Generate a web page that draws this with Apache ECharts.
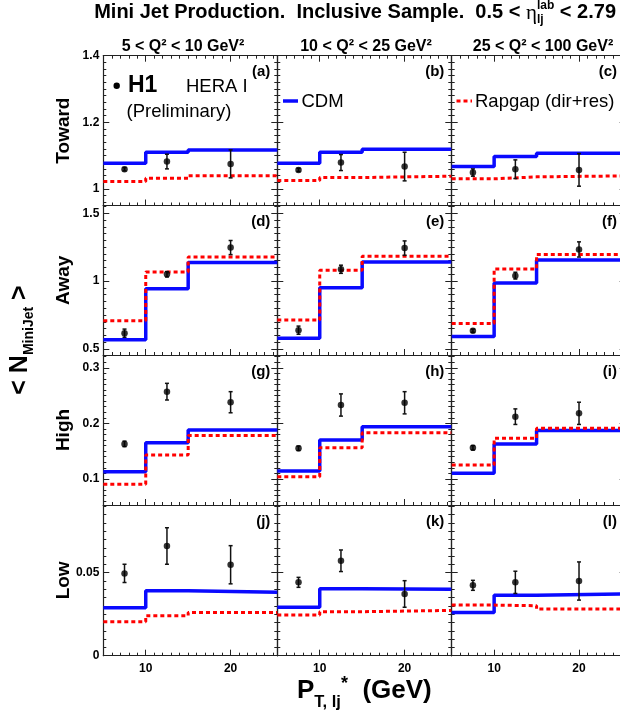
<!DOCTYPE html>
<html>
<head>
<meta charset="utf-8">
<script src="https://cdn.jsdelivr.net/npm/echarts@6/dist/echarts.min.js"></script>
<style>
  html, body { margin: 0; padding: 0; background: #fff; }
  #chart { width: 620px; height: 715px; }
</style>
</head>
<body>
<div id="chart"></div>
<script>
// pT* bins and H1 bin centres (GeV)
var binEdges = [5, 10, 15, 25.5];
var ptCenters = [7.5, 12.5, 20];

var rowNames = ['Toward', 'Away', 'High', 'Low'];
var colTitles = ['5 < Q\u00b2 < 10 GeV\u00b2', '10 < Q\u00b2 < 25 GeV\u00b2', '25 < Q\u00b2 < 100 GeV\u00b2'];
var panelTags = [['(a)', '(b)', '(c)'], ['(d)', '(e)', '(f)'], ['(g)', '(h)', '(i)'], ['(j)', '(k)', '(l)']];

// CDM prediction, [Q2 column][pT bin]
var cdmToward = [[1.077, 1.110, 1.117], [1.077, 1.110, 1.119], [1.067, 1.097, 1.107]];
var cdmAway = [[0.567, 0.943, 1.136], [0.579, 0.950, 1.141], [0.591, 0.985, 1.156]];
var cdmHigh = [[0.113, 0.165, 0.188], [0.114, 0.170, 0.194], [0.110, 0.163, 0.187]];
var cdmLow = [[0.0289, 0.0392, 0.0382], [0.0292, 0.0404, 0.0400], [0.0261, 0.0364, 0.0372]];

// Rapgap (dir+res)
var rapToward = [[1.022, 1.032, 1.039], [1.025, 1.034, 1.038], [1.030, 1.036, 1.039]];
var rapAway = [[0.708, 1.067, 1.178], [0.713, 1.079, 1.183], [0.688, 1.089, 1.196]];
var rapHigh = [[0.0905, 0.143, 0.178], [0.104, 0.156, 0.183], [0.125, 0.173, 0.191]];
var rapLow = [[0.0205, 0.0241, 0.0261], [0.0245, 0.0265, 0.0273], [0.0305, 0.0301, 0.0281]];

// H1 data and total errors
var h1Toward = [[1.059, 1.082, 1.075], [1.057, 1.079, 1.067], [1.049, 1.059, 1.057]];
var h1TowardErr = [[0.005, 0.022, 0.042], [0.005, 0.024, 0.043], [0.011, 0.028, 0.049]];
var h1Away = [[0.616, 1.050, 1.247], [0.638, 1.087, 1.243], [0.634, 1.040, 1.233]];
var h1AwayErr = [[0.03, 0.02, 0.052], [0.03, 0.03, 0.053], [0.012, 0.025, 0.056]];
var h1High = [[0.163, 0.257, 0.238], [0.155, 0.233, 0.237], [0.156, 0.212, 0.218]];
var h1HighErr = [[0.005, 0.015, 0.019], [0.004, 0.02, 0.02], [0.004, 0.014, 0.02]];
var h1Low = [[0.0496, 0.0661, 0.0548], [0.0442, 0.0572, 0.0372], [0.0424, 0.0442, 0.0450]];
var h1LowErr = [[0.0055, 0.011, 0.0115], [0.003, 0.0065, 0.008], [0.003, 0.0067, 0.0115]];

// axis ranges and tick labels per row
var yMin = [0.95, 0.455, 0.053, 0];
var yMax = [1.4, 1.557, 0.323, 0.0908];
var yLabels = [[1, 1.2, 1.4], [0.5, 1, 1.5], [0.1, 0.2, 0.3], [0, 0.05]];
var yMinorStep = [0.02, 0.05, 0.01, 0.005];
var xLabels = [10, 20];

var cdmRows = [cdmToward, cdmAway, cdmHigh, cdmLow];
var rapRows = [rapToward, rapAway, rapHigh, rapLow];
var h1Rows = [h1Toward, h1Away, h1High, h1Low];
var h1ErrRows = [h1TowardErr, h1AwayErr, h1HighErr, h1LowErr];

var FONT = '"Liberation Sans", Arial, Helvetica, sans-serif';
var colLeft = [103.3, 277.3, 451.7];
var panelW = 174;
var rowTop = [55.7, 205.5, 355, 505];
var rowBottom = [205.5, 355, 505, 655.7];

function ticksBetween(min, max, step) {
  var out = [];
  for (var k = Math.ceil(min / step - 1e-9); k * step <= max + 1e-9; k++) {
    out.push(+(k * step).toFixed(6));
  }
  return out;
}

var grids = [], xAxes = [], yAxes = [], series = [];

function addAxis(list, g, pos, min, max, ticks, len, withLine, labels) {
  var isX = list === xAxes;
  list.push({
    gridIndex: g, type: 'value', min: min, max: max, position: pos,
    axisLine: { show: withLine, onZero: false, lineStyle: { color: '#222', width: 1.2 } },
    axisTick: ticks ? { show: true, inside: true, length: len, customValues: ticks,
      lineStyle: { color: '#222', width: 1 } } : { show: false },
    axisLabel: labels ? {
      show: true, customValues: labels, margin: isX ? 7 : 4,
      color: '#000', fontSize: 12, fontWeight: 'bold', fontFamily: FONT,
      formatter: function (v) { return String(+v.toFixed(4)); }
    } : { show: false },
    splitLine: { show: false }
  });
  return list.length - 1;
}

function stepData(vals) {
  return binEdges.map(function (e, i) { return [e, vals[Math.min(i, vals.length - 1)]]; });
}

var xMinor = ticksBetween(5, 25.5, 1);

for (var r = 0; r < 4; r++) {
  for (var c = 0; c < 3; c++) {
    var g = grids.length;
    grids.push({ left: colLeft[c], top: rowTop[r], width: panelW, height: rowBottom[r] - rowTop[r],
      outerBoundsMode: 'none', containLabel: false });
    var yMinorTicks = ticksBetween(yMin[r], yMax[r], yMinorStep[r]);

    var xi = addAxis(xAxes, g, 'bottom', 5, 25.5, xMinor, 3, true, null);
    addAxis(xAxes, g, 'bottom', 5, 25.5, xLabels, 6, false, r === 3 ? xLabels : null);
    addAxis(xAxes, g, 'top', 5, 25.5, r === 0 ? xMinor : null, 3, true, null);
    if (r === 0) addAxis(xAxes, g, 'top', 5, 25.5, xLabels, 6, false, null);

    var yi = addAxis(yAxes, g, 'left', yMin[r], yMax[r], yMinorTicks, 3, true, null);
    addAxis(yAxes, g, 'left', yMin[r], yMax[r], yLabels[r], 6, false, c === 0 ? yLabels[r] : null);
    addAxis(yAxes, g, 'right', yMin[r], yMax[r], yMinorTicks, 3, true, null);
    addAxis(yAxes, g, 'right', yMin[r], yMax[r], yLabels[r], 6, false, null);

    series.push({
      type: 'line', xAxisIndex: xi, yAxisIndex: yi, step: 'end', showSymbol: false, clip: true,
      data: stepData(cdmRows[r][c]), lineStyle: { color: '#0a0aff', width: 3.5 }, z: 2, silent: true
    });
    series.push({
      type: 'line', xAxisIndex: xi, yAxisIndex: yi, step: 'end', showSymbol: false, clip: true,
      data: stepData(rapRows[r][c]), lineStyle: { color: '#ff0000', width: 3, type: [4, 3] }, z: 3, silent: true
    });
    var pts = ptCenters.map(function (x, i) { return [x, h1Rows[r][c][i], h1ErrRows[r][c][i]]; });
    series.push({
      type: 'custom', xAxisIndex: xi, yAxisIndex: yi, data: pts, z: 4, silent: true,
      encode: { x: 0, y: 1 },
      renderItem: function (params, api) {
        var x = api.value(0), y = api.value(1), e = api.value(2);
        var lo = api.coord([x, y - e]), hi = api.coord([x, y + e]);
        var st = { stroke: '#111', lineWidth: 1.5 };
        return { type: 'group', children: [
          { type: 'line', shape: { x1: lo[0], y1: lo[1], x2: hi[0], y2: hi[1] }, style: st },
          { type: 'line', shape: { x1: lo[0] - 2, y1: lo[1], x2: lo[0] + 2, y2: lo[1] }, style: st },
          { type: 'line', shape: { x1: hi[0] - 2, y1: hi[1], x2: hi[0] + 2, y2: hi[1] }, style: st }
        ] };
      }
    });
    series.push({
      type: 'scatter', xAxisIndex: xi, yAxisIndex: yi, symbolSize: 6.5, z: 5, silent: true,
      data: pts.map(function (p) { return [p[0], p[1]]; }), itemStyle: { color: '#000' }
    });
  }
}

// ---- text helpers ----
var ctx = document.createElement('canvas').getContext('2d');
function textWidth(t, size, weight, family) {
  ctx.font = (weight || 'bold') + ' ' + size + 'px ' + (family || FONT);
  return ctx.measureText(t).width;
}
function buildRun(pieces) {
  var x = 0, lastStart = 0, children = [];
  pieces.forEach(function (p) {
    var w = textWidth(p.text, p.size, p.weight, p.family);
    var px = p.stack ? lastStart : x;
    children.push({ type: 'text', x: px, y: p.dy || 0, style: {
      text: p.text, fontSize: p.size, fontWeight: p.weight || 'bold', fontFamily: p.family || FONT,
      fill: '#000', align: 'left', verticalAlign: 'middle' } });
    if (p.stack) { x = Math.max(x, px + w); } else { lastStart = x; x += w; }
  });
  return { children: children, width: x };
}
function txt(t, x, y, size, weight, align, rot) {
  return { type: 'text', x: x, y: y, rotation: rot || 0, style: {
    text: t, fontSize: size, fontWeight: weight, fontFamily: FONT, fill: '#000',
    align: align || 'left', verticalAlign: 'middle' } };
}

var elements = [];
var titleRun = buildRun([
  { text: 'Mini Jet Production.  Inclusive Sample.  0.5 < ', size: 20 },
  { text: '\u03b7', size: 21, weight: 'normal', family: '"Liberation Serif", serif', dy: 1 },
  { text: 'lab', size: 12, dy: -6 },
  { text: 'lj', size: 12, dy: 8, stack: true },
  { text: ' < 2.79', size: 20 }
]);
elements.push({ type: 'group', x: 616 - titleRun.width, y: 12, children: titleRun.children });

var colCenters = [183, 366, 543];
colTitles.forEach(function (t, c) { elements.push(txt(t, colCenters[c], 47, 16, 'bold', 'center')); });

rowNames.forEach(function (t, r) {
  elements.push(txt(t, 64, (rowTop[r] + rowBottom[r]) / 2, 19, 'bold', 'center', Math.PI / 2));
  for (var c = 0; c < 3; c++) {
    elements.push(txt(panelTags[r][c], Math.min(colLeft[c] + panelW - 7, 617), rowTop[r] + 16.5, 15, 'bold', 'right'));
  }
});

// legend
elements.push({ type: 'circle', shape: { cx: 116.7, cy: 85.7, r: 3.2 }, style: { fill: '#000' } });
elements.push(txt('H1', 128, 85.5, 23, 'bold'));
elements.push(txt('HERA I', 186, 87.3, 18.5, 'normal'));
elements.push(txt('(Preliminary)', 126.5, 112, 18.5, 'normal'));
elements.push({ type: 'line', shape: { x1: 283, y1: 101, x2: 298, y2: 101 }, style: { stroke: '#0a0aff', lineWidth: 3.5 } });
elements.push(txt('CDM', 301.5, 102, 18.5, 'normal'));
elements.push({ type: 'line', shape: { x1: 456.5, y1: 101, x2: 472, y2: 101 }, style: { stroke: '#ff0000', lineWidth: 3, lineDash: [4, 3] } });
elements.push(txt('Rapgap (dir+res)', 475, 102, 18.5, 'normal'));

// axis titles
var yRun = buildRun([
  { text: '< N', size: 25 },
  { text: 'MiniJet', size: 14, dy: 9 },
  { text: ' >', size: 25 }
]);
elements.push({ type: 'group', x: 20, y: 340 + yRun.width / 2, rotation: Math.PI / 2, children: yRun.children });

var xRun = buildRun([
  { text: 'P', size: 26 },
  { text: 'T, lj', size: 16.5, dy: 11 },
  { text: '*', size: 18, dy: -7 },
  { text: '  (GeV)', size: 26 }
]);
elements.push({ type: 'group', x: 297, y: 691, children: xRun.children });

var chart = echarts.init(document.getElementById('chart'), null, { renderer: 'canvas' });
chart.setOption({
  animation: false,
  backgroundColor: '#fff',
  grid: grids,
  xAxis: xAxes,
  yAxis: yAxes,
  series: series,
  graphic: { elements: elements }
});
</script>
</body>
</html>
